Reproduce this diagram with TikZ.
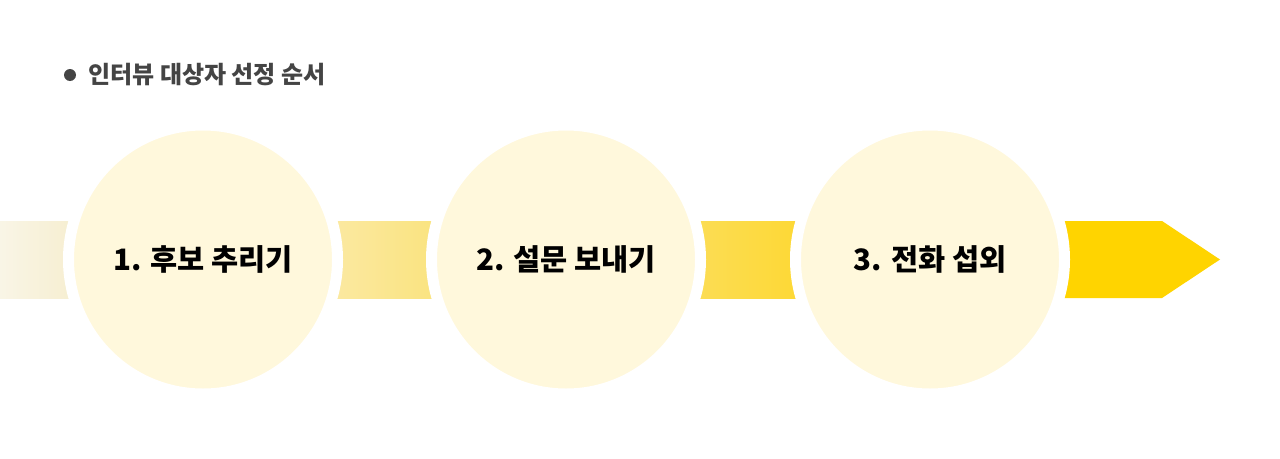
\documentclass[tikz,border=0pt]{standalone}
\usepackage{fontspec}
\setmainfont{Noto Sans CJK KR}
\usepackage{tikz}
\usetikzlibrary{positioning}
\definecolor{cream}{HTML}{FFF8DC}
\definecolor{titlegray}{HTML}{444444}
\definecolor{bandA}{HTML}{F9F5E6}
\definecolor{bandB}{HTML}{F6EED0}
\definecolor{bandC}{HTML}{FBE9A2}
\definecolor{bandD}{HTML}{FAE37E}
\definecolor{bandE}{HTML}{FCDD55}
\definecolor{bandF}{HTML}{FDD834}
\definecolor{bandG}{HTML}{FFD400}
\tikzset{
  stage/.style={circle, fill=cream, draw=white, line width=11pt,
                minimum size=269pt, inner sep=0pt,
                font=\fontsize{29.5}{35}\selectfont\bfseries, text=black},
  dot/.style={circle, fill=titlegray, minimum size=12pt, inner sep=0pt},
  heading/.style={font=\fontsize{24}{29}\selectfont\bfseries, text=titlegray,
                  inner sep=0pt},
}
\begin{document}
\begin{tikzpicture}[x=1pt, y=-1pt]
  \useasboundingbox[fill=white] (0,0) rectangle (1280,458);
  \node[dot] (bullet) at (70,75) {};
  \node[heading, right=12pt of bullet] (title) {인터뷰 대상자 선정 순서};
  \shade[left color=bandA, right color=bandB] (0,221) rectangle (76,298);
  \shade[left color=bandC, right color=bandD] (330,221) rectangle (440,298);
  \shade[left color=bandE, right color=bandF] (694,221) rectangle (803,298);
  \fill[bandG] (1058,221) -- (1162,221) -- (1220,259.5) -- (1162,298)
    -- (1058,298) -- cycle;
  \node[stage] (s1) at (203,259.5) {1. 후보 추리기};
  \node[stage] (s2) at (566,259.5) {2. 설문 보내기};
  \node[stage] (s3) at (930,259.5) {3. 전화 섭외};
\end{tikzpicture}
\end{document}
